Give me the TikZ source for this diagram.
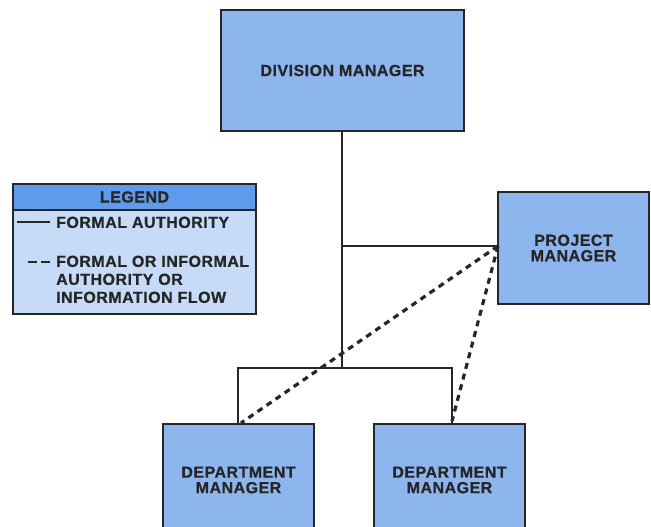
\documentclass[tikz,border=0pt]{standalone}
\usepackage{fontspec}
\setmainfont{Liberation Sans}[BoldFeatures={FakeBold=0.8,LetterSpace=3}]
\begin{document}
\begin{tikzpicture}[x=1pt,y=-1pt,
  box/.style={draw=boxline,line width=2.8pt,fill=boxblue,text=txt,font=\bfseries\fontsize{16}{15.5}\selectfont,align=center,inner sep=0pt},
  link/.style={draw=boxline,line width=2.2pt},
  info/.style={draw=boxline,line width=3.2pt,dash pattern=on 6pt off 5pt},
  ltxt/.style={text=txt,font=\bfseries\fontsize{16}{18}\selectfont,align=left,anchor=north west,inner sep=0pt}]
\definecolor{boxblue}{HTML}{8DB6EE}
\definecolor{legbody}{HTML}{C6DBF8}
\definecolor{leghead}{HTML}{5E9BEC}
\definecolor{boxline}{HTML}{262626}
\definecolor{txt}{HTML}{262626}
\useasboundingbox (0,0) rectangle (651,527);
\begin{scope}
\clip (0,0) rectangle (651,527);
% boxes
\node[box,minimum width=243pt,minimum height=121pt] (div) at (342.5,70.5) {DIVISION MANAGER};
\node[box,minimum width=151pt,minimum height=112pt] (pm) at (573.5,248) {PROJECT\\MANAGER};
\node[box,minimum width=151pt,minimum height=112pt] (d1) at (238.5,480) {DEPARTMENT\\MANAGER};
\node[box,minimum width=151pt,minimum height=112pt] (d2) at (449.5,480) {DEPARTMENT\\MANAGER};
% formal authority lines
\coordinate (j1) at (342,246);
\coordinate (j2) at (342,368);
\coordinate (l1) at (238,368);
\coordinate (r1) at (452,368);
\draw[link] (div.south -| j1) -- (j2);
\draw[link] (j1) -- (pm.west |- j1);
\draw[link] (d1.north -| l1) -- (l1) -- (r1) -- (d2.north -| r1);
% informal lines
\coordinate (pmw) at (498,246);
\draw[info] (pmw) -- (241,423);
\draw[info] (pmw) -- (452,421);
% legend
\node[draw=boxline,line width=2.8pt,fill=legbody,minimum width=243pt,minimum height=130pt,inner sep=0pt] (leg) at (134.5,249) {};
\node[draw=boxline,line width=2.8pt,fill=leghead,minimum width=243pt,minimum height=26pt,inner sep=0pt,text=txt,font=\bfseries\fontsize{16}{16}\selectfont] (legh) at (134.5,197) {LEGEND};
\coordinate (s1) at (17,222);
\coordinate (s2) at (50,222);
\draw[link] (s1) -- (s2);
\coordinate (q1) at (28,262);
\coordinate (q2) at (37,262);
\coordinate (q3) at (41,262);
\coordinate (q4) at (50,262);
\draw[link] (q1) -- (q2) (q3) -- (q4);
\node[ltxt] (t1) at (56,216.5) {FORMAL AUTHORITY};
\node[ltxt] (t2) at (56,255.5) {FORMAL OR INFORMAL\\AUTHORITY OR\\INFORMATION FLOW};
\end{scope}
\end{tikzpicture}
\end{document}
